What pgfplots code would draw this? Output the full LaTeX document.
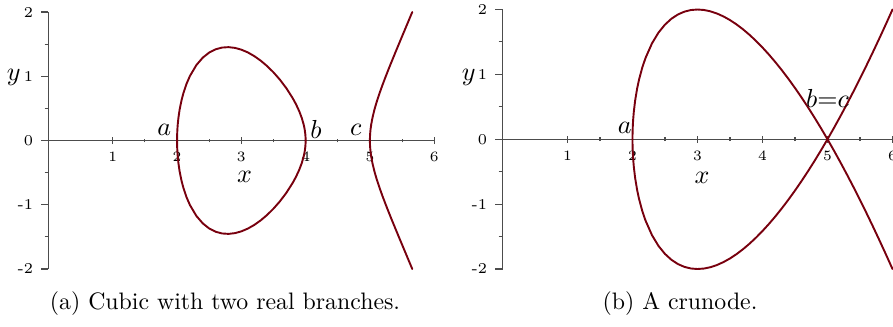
\documentclass[border=0pt]{standalone}
\usepackage{pgfplots}
\pgfplotsset{compat=1.18}
\usepackage{pgfplotstable}

\definecolor{curve}{HTML}{78000E}

% Oval of y^2=(x-2)(x-4)(x-5): upper (yp) and lower (yn) halves
\pgfplotstableread{
x      yp       yn
2.0    0.0      0.0
2.0005 0.05476 -0.05476
2.002  0.10945 -0.10945
2.005  0.17285 -0.17285
2.01   0.24393 -0.24393
2.02   0.34352 -0.34352
2.04   0.48173 -0.48173
2.07   0.62916 -0.62916
2.1    0.74229 -0.74229
2.15   0.88931 -0.88931
2.2    1.00399 -1.00399
2.3    1.17346 -1.17346
2.4    1.28996 -1.28996
2.5    1.36931 -1.36931
2.6    1.41986 -1.41986
2.7    1.44672 -1.44672
2.8    1.45327 -1.45327
2.9    1.44187 -1.44187
3.0    1.41421 -1.41421
3.1    1.37150 -1.37150
3.2    1.31453 -1.31453
3.3    1.24378 -1.24378
3.4    1.15931 -1.15931
3.5    1.06066 -1.06066
3.6    0.94657 -0.94657
3.7    0.81425 -0.81425
3.8    0.65727 -0.65727
3.85   0.56491 -0.56491
3.9    0.45717 -0.45717
3.94   0.35126 -0.35126
3.97   0.24672 -0.24672
3.985  0.17385 -0.17385
3.995  0.10012 -0.10012
3.999  0.04473 -0.04473
4.0    0.0      0.0
}\ovaltable

% Unbounded branch of the same cubic, x >= 5
\pgfplotstableread{
x      yp       yn
5.0    0.0      0.0
5.0005 0.03874 -0.03874
5.002  0.07756 -0.07756
5.005  0.12288 -0.12288
5.01   0.17436 -0.17436
5.02   0.24821 -0.24821
5.04   0.35562 -0.35562
5.07   0.47953 -0.47953
5.1    0.58395 -0.58395
5.15   0.73714 -0.73714
5.2    0.87636 -0.87636
5.25   1.00778 -1.00778
5.3    1.13446 -1.13446
5.35   1.25813 -1.25813
5.4    1.37986 -1.37986
5.45   1.50037 -1.50037
5.5    1.62019 -1.62019
5.55   1.73965 -1.73965
5.6    1.85903 -1.85903
5.65   1.97854 -1.97854
5.659  2.0     -2.0
}\branchtable

% Nodal cubic y^2=(x-2)(x-5)^2: the two smooth branches through the node
\pgfplotstableread{
x      yp       yn
2.0    0.0      0.0
2.0005 0.06707 -0.06707
2.002  0.13407 -0.13407
2.005  0.21178 -0.21178
2.01   0.29900 -0.29900
2.02   0.42144 -0.42144
2.04   0.59200 -0.59200
2.07   0.77521 -0.77521
2.1    0.91706 -0.91706
2.15   1.10380 -1.10380
2.2    1.25220 -1.25220
2.3    1.47885 -1.47885
2.4    1.64439 -1.64439
2.5    1.76777 -1.76777
2.6    1.85903 -1.85903
2.7    1.92432 -1.92432
2.8    1.96774 -1.96774
2.9    1.99223 -1.99223
3.0    2.0     -2.0
3.1    1.99274 -1.99274
3.2    1.97180 -1.97180
3.3    1.93830 -1.93830
3.4    1.89315 -1.89315
3.5    1.83712 -1.83712
3.6    1.77088 -1.77088
3.7    1.69499 -1.69499
3.8    1.60997 -1.60997
3.9    1.51624 -1.51624
4.0    1.41421 -1.41421
4.1    1.30422 -1.30422
4.2    1.18659 -1.18659
4.3    1.06160 -1.06160
4.4    0.92952 -0.92952
4.5    0.79057 -0.79057
4.6    0.64498 -0.64498
4.7    0.49295 -0.49295
4.8    0.33466 -0.33466
4.9    0.17029 -0.17029
5.0    0.0      0.0
5.1   -0.17607  0.17607
5.2   -0.35777  0.35777
5.3   -0.54498  0.54498
5.4   -0.73756  0.73756
5.5   -0.93541  0.93541
5.6   -1.13842  1.13842
5.7   -1.34648  1.34648
5.8   -1.55949  1.55949
5.9   -1.77736  1.77736
6.0   -2.0      2.0
}\nodetable

\pgfplotsset{
  mapleaxis/.style={
    axis lines=middle,
    axis line style={-, black!70, line width=0.55pt},
    scale only axis, clip=false,
    anchor=south west,
    ymin=-2, ymax=2,
    xtick={1,...,6}, ytick={-2,...,2},
    yticklabels={-2,-1,0,1,2},
    minor x tick num=1, minor y tick num=1,
    xtick align=center, ytick align=outside,
    major tick length=3pt, minor tick length=1.6pt,
    hide obscured x ticks=false, hide obscured y ticks=false,
    tick style={black!70, line width=0.45pt},
    ticklabel style={font=\fontsize{6.3}{7}\selectfont},
  },
  curvestyle/.style={curve, line width=0.8pt, line cap=round, line join=round, mark=none},
}
\tikzset{
  ptlabel/.style={font=\fontsize{10.5}{12}\selectfont},
  axlabel/.style={font=\fontsize{11}{13}\selectfont},
}

\begin{document}
\begin{tikzpicture}
% (a) two real branches
\begin{axis}[mapleaxis,
  at={(20.37pt,-112.98pt)},
  width=162pt, height=107.94pt,
  xmin=0, xmax=6]
  \addplot[curvestyle] table[x=x, y=yp] {\ovaltable};
  \addplot[curvestyle] table[x=x, y=yn] {\ovaltable};
  \addplot[curvestyle] table[x=x, y=yp] {\branchtable};
  \addplot[curvestyle] table[x=x, y=yn] {\branchtable};
  \node[ptlabel] at (axis cs:1.8,0.17) {$a$};
  \node[ptlabel] at (axis cs:4.16,0.17) {$b$};
  \node[ptlabel] at (axis cs:4.78,0.17) {$c$};
  \node[axlabel] at (axis cs:3.05,-0.56) {$x$};
  \node[axlabel] at (axis cs:-0.54,0.98) {$y$};
\end{axis}
% (b) crunode
\begin{axis}[mapleaxis,
  at={(211.05pt,-112.98pt)},
  width=166.53pt, height=108.99pt,
  xmin=0, xmax=6.1]
  \addplot[curvestyle] table[x=x, y=yp] {\nodetable};
  \addplot[curvestyle] table[x=x, y=yn] {\nodetable};
  \node[ptlabel] at (axis cs:1.88,0.17) {$a$};
  \node[ptlabel] at (axis cs:5.0,0.63) {$b{=}c$};
  \node[axlabel] at (axis cs:3.07,-0.6) {$x$};
  \node[axlabel] at (axis cs:-0.52,0.95) {$y$};
\end{axis}
\node at (94.5pt,-127.3pt) {(a) Cubic with two real branches.};
\node at (285.6pt,-127.3pt) {(b) A crunode.};
\pgfresetboundingbox
\useasboundingbox (0,0) rectangle (375.06pt,-136.92pt);
\end{tikzpicture}
\end{document}
